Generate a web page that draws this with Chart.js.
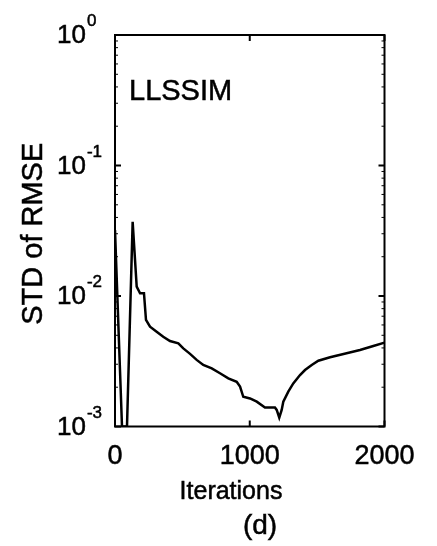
<!DOCTYPE html>
<html>
<head>
<meta charset="utf-8">
<script src="https://cdn.jsdelivr.net/npm/chart.js@4"></script>
<style>
  html, body { margin: 0; padding: 0; background: #fff; }
  canvas { display: block; }
</style>
</head>
<body>
<canvas id="stdChart" width="437" height="546"></canvas>
<script>
// STD of RMSE vs iterations (LLSSIM), panel (d)

const iterations = [0, 52, 89, 131, 161, 186, 215, 230, 260, 309, 358, 408, 470, 507, 557, 606, 655, 718, 779, 841, 903, 928, 952, 1002, 1052, 1113, 1187, 1200, 1219, 1237, 1249, 1286, 1323, 1373, 1410, 1460, 1509, 1596, 1719, 1818, 1917, 2000];
const stdRmse = [0.032, 0.001, 0.001, 0.037, 0.0118, 0.0105, 0.0105, 0.00655, 0.00582, 0.00533, 0.00487, 0.00452, 0.00434, 0.00397, 0.0036, 0.00324, 0.00296, 0.00279, 0.00256, 0.00234, 0.0022, 0.00202, 0.00169, 0.00164, 0.00155, 0.0014, 0.0014, 0.00134, 0.00117, 0.00134, 0.00155, 0.00185, 0.00214, 0.00248, 0.00271, 0.00296, 0.00319, 0.00339, 0.00364, 0.00386, 0.00414, 0.00439];

const xTicks = [0, 1000, 2000];
const yExponents = [0, -1, -2, -3];

const FONT = '"Liberation Sans", Arial, sans-serif';

// scanned print looks a bit heavier, so fill + thin stroke
function inkText(ctx, text, x, y) {
    ctx.fillText(text, x, y);
    ctx.lineWidth = 0.5;
    ctx.strokeText(text, x, y);
}

// draws the MATLAB-style box, inward ticks and all the labels
const framePlugin = {
    id: 'frame',
    afterDraw(chart) {
        const ctx = chart.ctx;
        const { left, right, top, bottom } = chart.chartArea;
        const xs = chart.scales.x;
        const ys = chart.scales.y;

        ctx.save();
        ctx.strokeStyle = '#000';
        ctx.fillStyle = '#000';

        // box
        ctx.lineWidth = 2;
        ctx.strokeRect(left, top, right - left, bottom - top);

        // x ticks
        xTicks.forEach(v => {
            const px = xs.getPixelForValue(v);
            ctx.lineWidth = 2;
            ctx.beginPath();
            ctx.moveTo(px, bottom); ctx.lineTo(px, bottom - 6);
            ctx.moveTo(px, top); ctx.lineTo(px, top + 6);
            ctx.stroke();
            ctx.font = '27px ' + FONT;
            ctx.textAlign = 'center';
            ctx.textBaseline = 'alphabetic';
            inkText(ctx, String(v), px, bottom + 37);
        });

        // y major ticks + labels 10^e
        yExponents.forEach(e => {
            const py = ys.getPixelForValue(Math.pow(10, e));
            ctx.lineWidth = 2;
            ctx.beginPath();
            ctx.moveTo(left, py); ctx.lineTo(left + 6, py);
            ctx.moveTo(right, py); ctx.lineTo(right - 6, py);
            ctx.stroke();

            ctx.textAlign = 'left';
            ctx.textBaseline = 'middle';
            ctx.font = '26px ' + FONT;
            inkText(ctx, '10', 57, py + 1);
            const w = ctx.measureText('10').width;
            ctx.textBaseline = 'alphabetic';
            ctx.font = '17px ' + FONT;
            inkText(ctx, String(e), 57 + w + 1, py - 9);
        });

        // y minor ticks
        ctx.lineWidth = 1;
        for (let e = -3; e < 0; e++) {
            for (let k = 2; k <= 9; k++) {
                const py = ys.getPixelForValue(k * Math.pow(10, e));
                ctx.beginPath();
                ctx.moveTo(left, py); ctx.lineTo(left + 3, py);
                ctx.moveTo(right, py); ctx.lineTo(right - 3, py);
                ctx.stroke();
            }
        }

        // in-plot label
        ctx.textAlign = 'left';
        ctx.textBaseline = 'alphabetic';
        ctx.font = '29px ' + FONT;
        inkText(ctx, 'LLSSIM', left + 14, top + 65);

        // axis titles
        ctx.font = '25px ' + FONT;
        ctx.textAlign = 'center';
        inkText(ctx, 'Iterations', left + 116, bottom + 72);

        ctx.font = '28px ' + FONT;
        inkText(ctx, '(d)', left + 145, bottom + 107);

        ctx.save();
        ctx.translate(42, (top + bottom) / 2 + 3);
        ctx.rotate(-Math.PI / 2);
        ctx.font = '29px ' + FONT;
        ctx.textAlign = 'center';
        ctx.textBaseline = 'alphabetic';
        inkText(ctx, 'STD of RMSE', 0, 0);
        ctx.restore();

        ctx.restore();
    }
};

const chart = new Chart(document.getElementById('stdChart'), {
    type: 'line',
    data: {
        datasets: [{
            data: iterations.map((it, i) => ({ x: it, y: stdRmse[i] })),
            borderColor: '#000',
            borderWidth: 2.5,
            pointRadius: 0,
            tension: 0,
            fill: false
        }]
    },
    options: {
        responsive: false,
        animation: false,
        devicePixelRatio: 1,
        layout: {
            padding: { left: 115, right: 52.5, top: 35, bottom: 119.5 }
        },
        plugins: {
            legend: { display: false },
            tooltip: { enabled: false }
        },
        scales: {
            x: { type: 'linear', min: 0, max: 2000, display: false },
            y: { type: 'logarithmic', min: 0.001, max: 1, display: false }
        }
    },
    plugins: [framePlugin]
});
</script>
</body>
</html>
